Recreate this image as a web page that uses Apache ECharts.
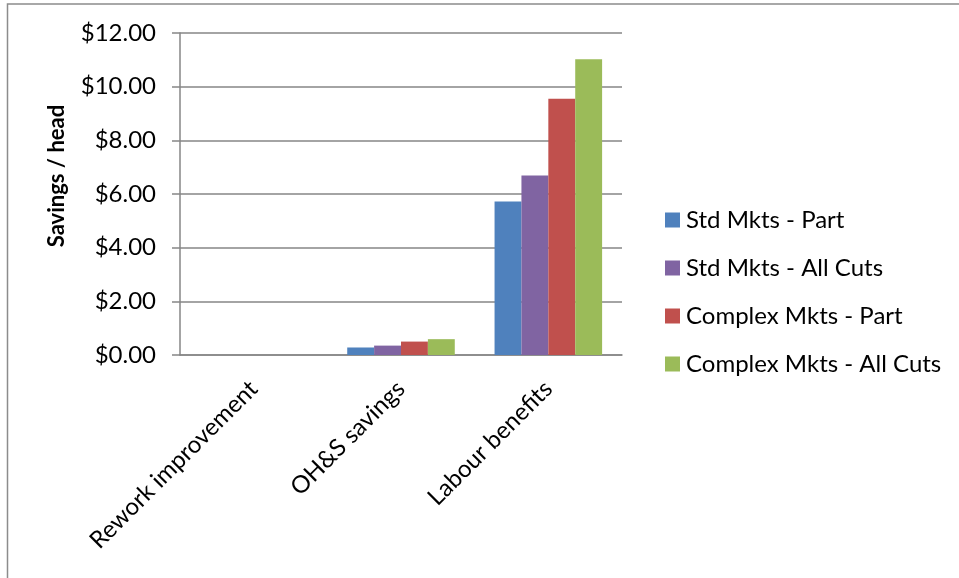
<!DOCTYPE html>
<html>
<head>
<meta charset="utf-8">
<script src="https://cdn.jsdelivr.net/npm/echarts@6/dist/echarts.min.js"></script>
<style>
  html, body { margin: 0; padding: 0; background: #fff; }
  #chart { width: 959px; height: 578px; }
</style>
</head>
<body>
<div id="chart"></div>
<script>
  const categories = ['Rework improvement', 'OH&S savings', 'Labour benefits'];
  const seriesNames = ['Std Mkts - Part', 'Std Mkts - All Cuts', 'Complex Mkts - Part', 'Complex Mkts - All Cuts'];
  const stdPart = [0, 0.28, 5.72];
  const stdAll = [0, 0.35, 6.69];
  const complexPart = [0, 0.50, 9.55];
  const complexAll = [0, 0.59, 11.02];
  const colors = ['#4F81BD', '#8064A2', '#C0504D', '#9BBB59'];

  const font = 'Lato, "Open Sans", sans-serif';
  const chart = echarts.init(document.getElementById('chart'));

  const values = [stdPart, stdAll, complexPart, complexAll];
  const series = seriesNames.map((name, i) => ({
    name: name,
    type: 'bar',
    barGap: '0%',
    barCategoryGap: '27%',
    itemStyle: {color: colors[i]},
    data: values[i]
  }));

  chart.setOption({
    animation: false,
    textStyle: {fontFamily: font},
    grid: {left: 180, right: 337, top: 33, bottom: 223},
    graphic: [
      {
        type: 'rect',
        shape: {x: 7.5, y: 4, width: 1000, height: 600},
        style: {fill: 'none', stroke: '#8c8c8c', lineWidth: 1.5}
      },
      {
        type: 'text',
        x: 57, y: 176,
        rotation: Math.PI / 2,
        style: {
          text: 'Savings / head',
          fontFamily: font,
          fontWeight: 'bold',
          fontSize: 22,
          fill: '#000',
          align: 'center',
          verticalAlign: 'middle'
        }
      }
    ],
    legend: {
      orient: 'vertical',
      left: 665,
      top: 208,
      padding: 0,
      icon: 'rect',
      itemWidth: 15,
      itemHeight: 15,
      itemGap: 24,
      textStyle: {fontFamily: font, fontSize: 24, lineHeight: 24, color: '#000', padding: [0, 0, 0, 1]},
      data: seriesNames
    },
    xAxis: {
      type: 'category',
      data: categories,
      axisLine: {lineStyle: {color: '#868686', width: 1.5}},
      axisTick: {length: 7, lineStyle: {color: '#868686', width: 1.5}},
      axisLabel: {
        rotate: 45,
        fontFamily: font,
        fontSize: 24,
        color: '#000',
        margin: 30
      }
    },
    yAxis: {
      type: 'value',
      min: 0,
      max: 12,
      interval: 2,
      axisLine: {show: true, lineStyle: {color: '#868686', width: 1.5}},
      axisTick: {show: true, inside: false, length: 8, lineStyle: {color: '#868686', width: 1.5}},
      splitLine: {lineStyle: {color: '#868686', width: 1.5}},
      axisLabel: {
        fontFamily: font,
        fontSize: 24,
        color: '#000',
        margin: 24,
        formatter: v => '$' + v.toFixed(2)
      }
    },
    series: series
  });
</script>
</body>
</html>
